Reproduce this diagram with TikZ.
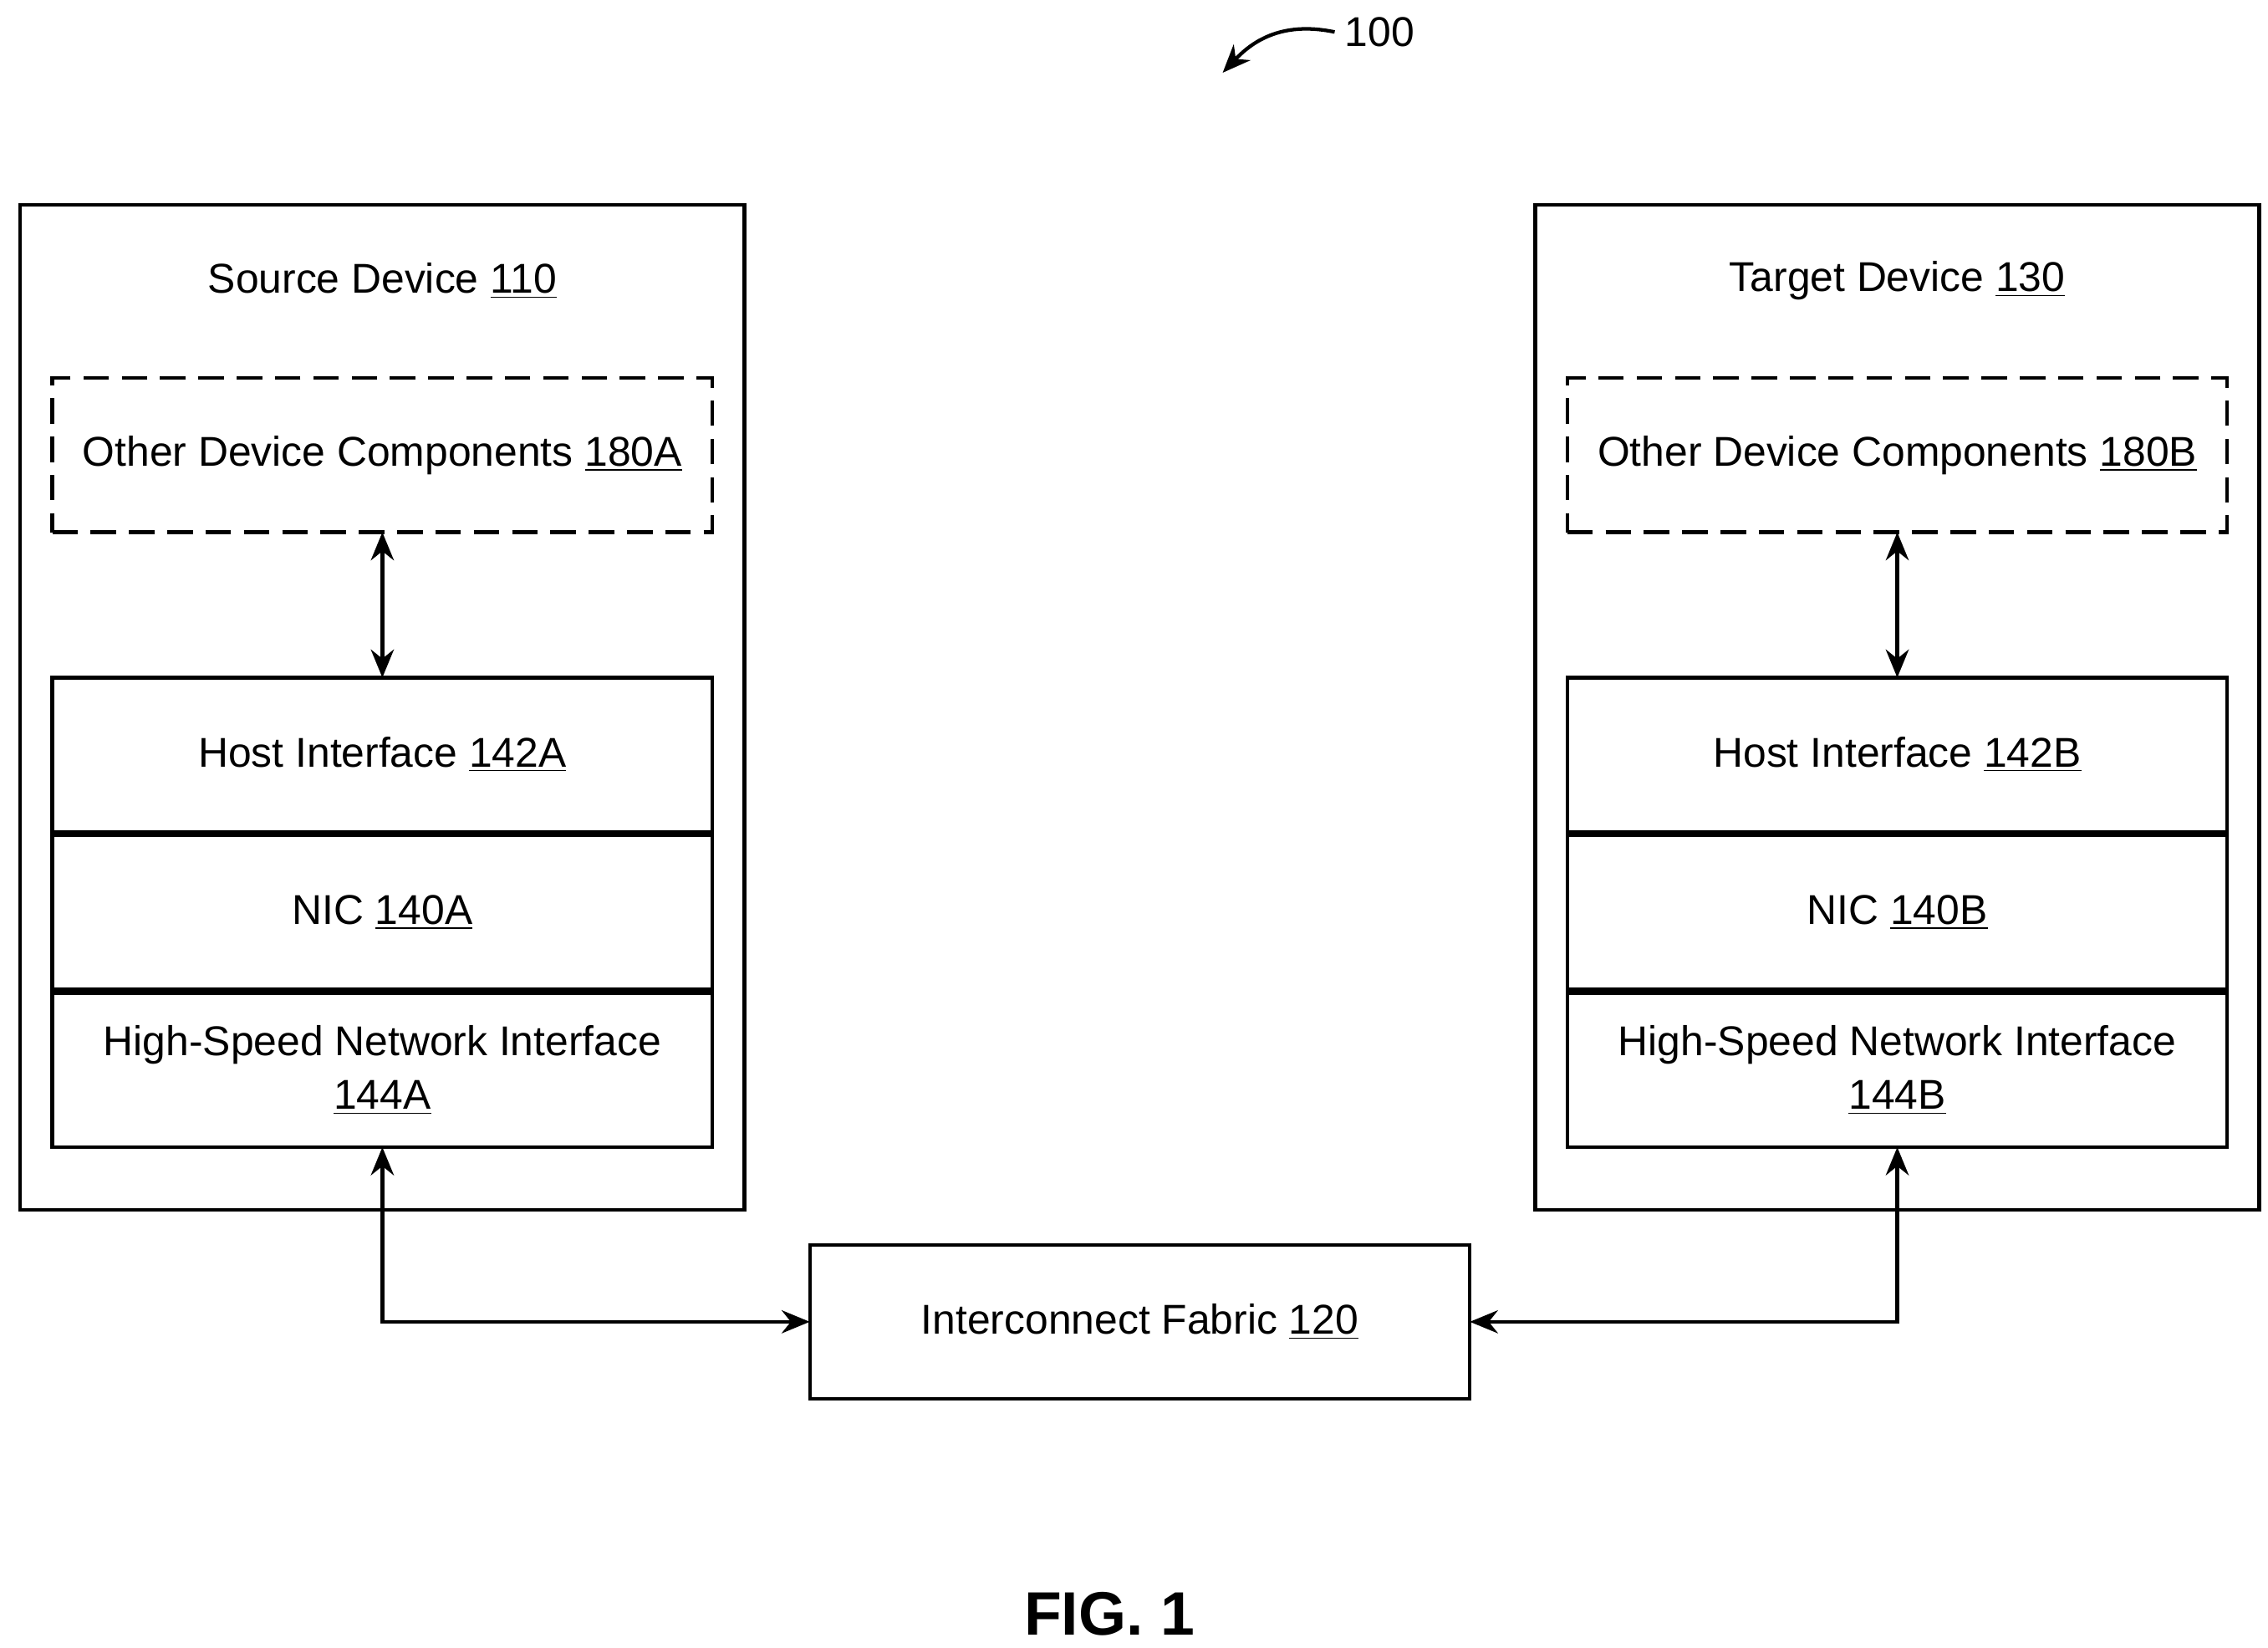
\documentclass[tikz,border=0pt]{standalone}
\usepackage{fontspec}
\setmainfont{Liberation Sans}
\usetikzlibrary{positioning,arrows.meta,calc}

\begin{document}
\begin{tikzpicture}[x=0.02cm, y=-0.02cm, line width=1.4pt,
    >={Stealth[length=11pt,width=9pt]},
    device/.style={rectangle, draw, minimum width=498*0.02cm, minimum height=691*0.02cm, inner sep=0pt, outer sep=0pt},
    block/.style={rectangle, draw, minimum width=454*0.02cm, minimum height=106*0.02cm, inner sep=0pt, outer sep=0pt, align=center, font=\fontsize{16.3}{21}\selectfont},
    other/.style={block, dashed, dash pattern=on 10pt off 5pt},
    title/.style={font=\fontsize{16.3}{21}\selectfont}]
    \useasboundingbox (0,0) rectangle (1560,1133);

    % Devices
    \node [device] (source) at (263,486.5) {};
    \node [device] (target) at (1305,486.5) {};
    \node [title] (source_title) at (263,193) {Source Device \underline{110}};
    \node [title] (target_title) at (1305,193) {Target Device \underline{130}};

    % Source side
    \node [other] (other_a) at (263,313) {Other Device Components \underline{180A}};
    \node [block] (host_a) at (263,519) {Host Interface \underline{142A}};
    \node [block, below=1.4pt of host_a] (nic_a) {NIC \underline{140A}};
    \node [block, below=1.4pt of nic_a] (hsni_a) {High-Speed Network Interface\\\underline{144A}};

    % Target side
    \node [other] (other_b) at (1305,313) {Other Device Components \underline{180B}};
    \node [block] (host_b) at (1305,519) {Host Interface \underline{142B}};
    \node [block, below=1.4pt of host_b] (nic_b) {NIC \underline{140B}};
    \node [block, below=1.4pt of nic_b] (hsni_b) {High-Speed Network Interface\\\underline{144B}};

    % Fabric
    \node [block] (fabric) at (784,909) {Interconnect Fabric \underline{120}};

    % Arrows
    \draw [<->] (other_a) -- (host_a);
    \draw [<->] (other_b) -- (host_b);
    \draw [<->] (hsni_a.south) |- (fabric.west);
    \draw [<->] (hsni_b.south) |- (fabric.east);

    % Labels
    \node [font=\fontsize{24}{28}\selectfont\bfseries] (fig) at (763,1110) {FIG. 1};
    \node [title, anchor=west] (ref) at (918,22) {100};
    \draw [->] (ref.west) .. controls (880,14) and (860,30) .. (841,50);
\end{tikzpicture}
\end{document}
